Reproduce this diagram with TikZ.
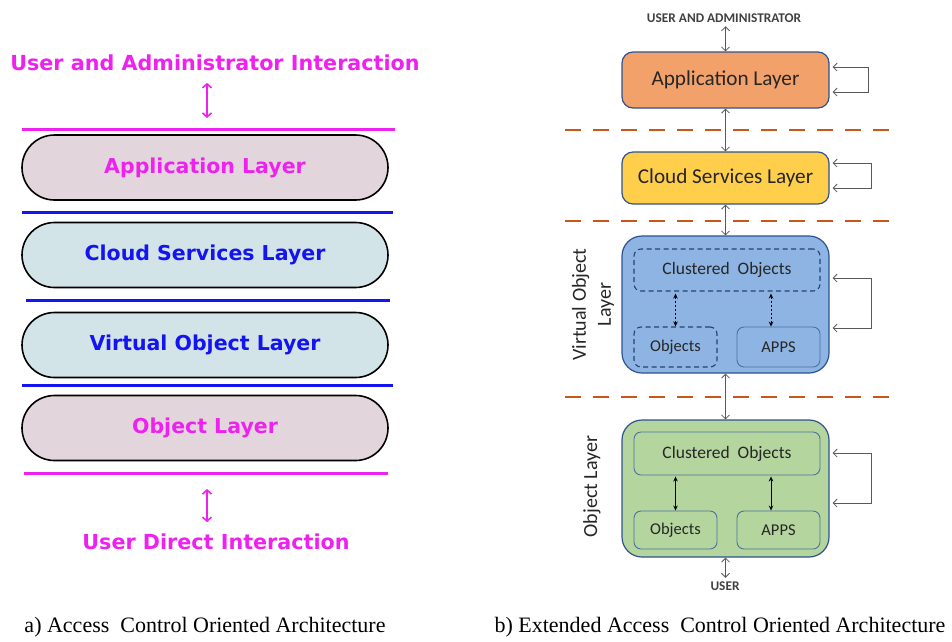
\documentclass[tikz,border=0pt]{standalone}
\usepackage{fontspec}
\setmainfont{Liberation Serif}
\newfontfamily\dvfont{DejaVu Sans}
\newfontfamily\cbfont{Carlito}
\usepackage{tikz}
\usetikzlibrary{arrows.meta,shapes.misc}

\definecolor{magentaline}{HTML}{EE22EE}
\definecolor{blueline}{HTML}{1414F0}
\definecolor{pinkfill}{HTML}{E2D6DC}
\definecolor{cyanfill}{HTML}{D3E4E8}
\definecolor{appfill}{HTML}{F3A16B}
\definecolor{cloudfill}{HTML}{FFCF4C}
\definecolor{virtfill}{HTML}{8DB4E2}
\definecolor{objfill}{HTML}{B5D59F}
\definecolor{boxborder}{HTML}{2F528F}
\definecolor{innerborder}{HTML}{4A72A0}
\definecolor{cutcolor}{HTML}{C9571A}
\definecolor{darkgrey}{HTML}{595959}

\begin{document}
\begin{tikzpicture}[x=1pt, y=-1pt, line width=1pt,
    pill/.style={rounded rectangle, draw=black, line width=1.6pt,
        minimum width=366pt, minimum height=65pt, inner sep=0pt,
        font=\dvfont\bfseries\fontsize{20.5}{24}\selectfont},
    magtext/.style={text=magentaline, font=\dvfont\bfseries\fontsize{20.7}{24}\selectfont},
    sepline/.style={line width=3pt},
    magarrow/.style={draw=magentaline, line width=1.6pt,
        {Straight Barb[length=4pt,width=9pt]}-{Straight Barb[length=4pt,width=9pt]}},
    layerbox/.style={draw=boxborder, line width=1.2pt, rounded corners=11pt,
        minimum width=207pt, text=black!85, font=\cbfont\fontsize{21.2}{25}\selectfont},
    innerbox/.style={draw=innerborder, line width=0.9pt, rounded corners=7pt,
        text=black!85, font=\cbfont\fontsize{16.5}{19}\selectfont},
    dashbox/.style={innerbox, draw=boxborder!80!black, line width=1.1pt,
        dash pattern=on 5pt off 3.5pt},
    clusterfont/.style={font=\cbfont\fontsize{17.5}{20}\selectfont},
    greyarrow/.style={draw=darkgrey, line width=0.8pt,
        {Straight Barb[length=4pt,width=8pt]}-{Straight Barb[length=4pt,width=8pt]}},
    innerarrow/.style={draw=black, line width=0.8pt,
        {Stealth[length=5pt,width=4.5pt]}-{Stealth[length=5pt,width=4.5pt]}},
    cutline/.style={draw=cutcolor, line width=2.6pt, dash pattern=on 16pt off 12pt},
    sidelabel/.style={rotate=90, align=center, text=black!85,
        font=\cbfont\fontsize{20}{25}\selectfont},
    smallcaps/.style={text=black!75, font=\cbfont\bfseries\fontsize{13.3}{15}\selectfont},
    caption/.style={font=\fontsize{22}{26}\selectfont}]

\useasboundingbox (0,0) rectangle (952,641);

% ---- a) left column ----

% interaction texts
\node[magtext] (uai) at (215,63) {User and Administrator Interaction};
\node[magtext] (udi) at (216,542) {User Direct Interaction};

% layers
\node[pill, fill=pinkfill, text=magentaline] (appl) at (205,167.5) {Application Layer};
\node[pill, fill=cyanfill, text=blueline] (cloudl) at (205,255) {Cloud Services Layer};
\node[pill, fill=cyanfill, text=blueline] (virtl) at (205,345) {Virtual Object Layer};
\node[pill, fill=pinkfill, text=magentaline] (objl) at (205,428) {Object Layer};

% separating lines
\coordinate (topbar) at (207,129);
\coordinate (botbar) at (207,473);
\draw[sepline, magentaline] (22,129) -- (395,129);
\draw[sepline, blueline] (22,212) -- (393,212);
\draw[sepline, blueline] (26,300) -- (390,300);
\draw[sepline, blueline] (22,385) -- (393,385);
\draw[sepline, magentaline] (24,473) -- (388,473);

% interaction arrows
\draw[magarrow, shorten <=8pt, shorten >=11pt] (uai.south -| topbar) -- (topbar);
\draw[magarrow, shorten <=16pt, shorten >=8pt] (botbar) -- (udi.north -| botbar);

% ---- b) right column ----

% layer cuts
\foreach \y in {130,221,397}
{
    \draw[cutline] (565,\y) -- (895,\y);
}

% layers
\node[smallcaps] (uadmin) at (724,18) {USER AND ADMINISTRATOR};
\node[layerbox, fill=appfill, minimum height=56pt] (app) at (725.5,80) {Application Layer};
\node[layerbox, fill=cloudfill, minimum height=52pt] (cloud) at (725.5,178) {Cloud Services Layer};
\node[layerbox, fill=virtfill, minimum height=137pt, rounded corners=20pt] (virt) at (725.5,304.5) {};
\node[layerbox, fill=objfill, minimum height=137pt, rounded corners=20pt] (objb) at (725.5,488.5) {};
\node[smallcaps] (user) at (725,586) {USER};

% side labels
\node[sidelabel] (virtlabel) at (593,304.5) {Virtual Object\\Layer};
\node[sidelabel] (objlabel) at (592,486.5) {Object Layer};

% virtual object parts
\node[dashbox, clusterfont, minimum width=186pt, minimum height=42pt] (vclust) at (727,270) {Clustered~~Objects};
\node[dashbox, minimum width=83pt, minimum height=40pt] (vobj) at (675.5,347) {Objects};
\node[innerbox, minimum width=83pt, minimum height=40pt] (vapps) at (778.5,347) {APPS};

% object parts
\node[innerbox, clusterfont, minimum width=186pt, minimum height=43pt] (oclust) at (727,453.5) {Clustered~~Objects};
\node[innerbox, minimum width=83pt, minimum height=38pt] (oobj) at (675.5,530) {Objects};
\node[innerbox, minimum width=83pt, minimum height=38pt] (oapps) at (778.5,530) {APPS};

% inner arrows
\coordinate (vappsin) at ([xshift=-7.5pt]vapps.north);
\coordinate (oappsin) at ([xshift=-7.5pt]oapps.north);
\draw[innerarrow, dash pattern=on 2.5pt off 1.5pt, shorten <=2pt] (vclust.south -| vobj.north) -- (vobj.north);
\draw[innerarrow, dash pattern=on 2.5pt off 1.5pt, shorten <=2pt] (vclust.south -| vappsin) -- (vappsin);
\draw[innerarrow, shorten <=1pt] (oclust.south -| oobj.north) -- (oobj.north);
\draw[innerarrow, shorten <=1pt] (oclust.south -| oappsin) -- (oappsin);

% vertical links
\draw[greyarrow] (uadmin.south -| app.north) -- (app.north);
\draw[greyarrow] (app.south) -- (cloud.north);
\draw[greyarrow] (cloud.south) -- (virt.north);
\draw[greyarrow] (virt.south) -- (objb.north);
\draw[greyarrow] (objb.south) -- (user.north -| objb.south);

% self loops
\foreach \b/\t/\u/\w in {app/13/12/36, cloud/15/10/39, virt/26.5/23.5/39, objb/35.5/14.5/39}
{
    \draw[greyarrow] ([xshift=3pt,yshift=\t pt]\b.east) -- ++(\w,0) |- ([xshift=3pt,yshift=-\u pt]\b.east);
}

% captions
\node[caption] (capa) at (205,627) {a) Access~~Control Oriented Architecture};
\node[caption] (capb) at (720,627) {b) Extended Access~~Control Oriented Architecture};

\end{tikzpicture}
\end{document}
